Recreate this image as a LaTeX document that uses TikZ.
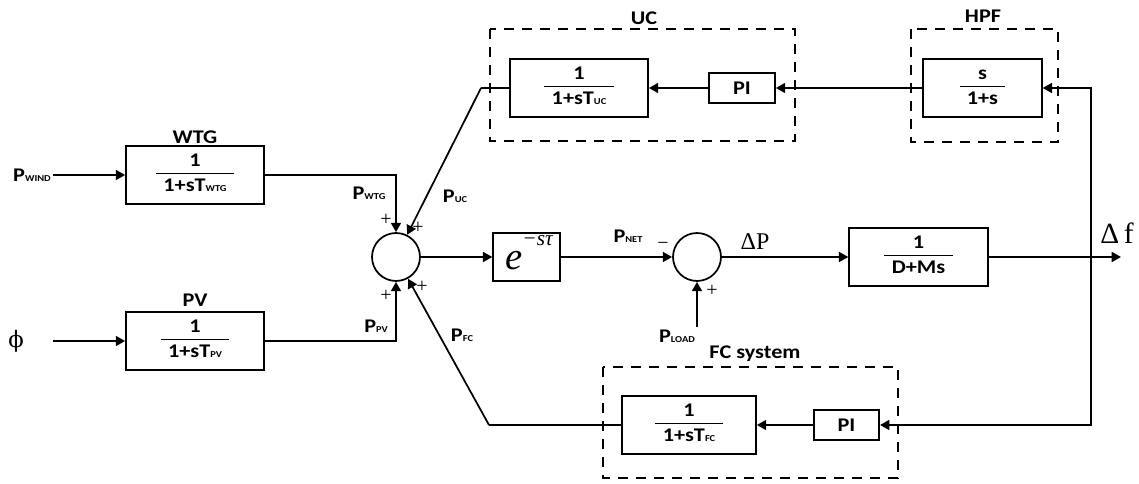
\documentclass[tikz,border=0pt]{standalone}
\usepackage{fontspec}
\setmainfont{Carlito}[FakeStretch=1.15]
\newfontfamily\tms{Liberation Serif}
\newfontfamily\dvs{DejaVu Serif}
\usetikzlibrary{arrows.meta}
\newcommand\sbs[1]{{\fontsize{6.8}{7}\selectfont #1}}
\newcommand\tfr[2]{\begin{tabular}{@{\hspace{5.5pt}}c@{\hspace{5.5pt}}}#1\\\hline\rule{0pt}{13.5pt}#2\end{tabular}}
\begin{document}
\begin{tikzpicture}[x=0.75pt,y=-0.75pt,
  blk/.style={draw,line width=1.3pt,inner sep=0pt,font=\fontsize{14.5}{15.5}\selectfont\bfseries},
  sumj/.style={draw,circle,line width=1.3pt,minimum size=36pt,inner sep=0pt},
  sig/.style={line width=1.3pt,-{Triangle[length=7pt,width=7.5pt]}},
  ln/.style={line width=1.3pt},
  dbox/.style={line width=1.3pt,dash pattern=on 7.5pt off 6pt},
  lab/.style={inner sep=0pt,font=\fontsize{14.5}{16}\selectfont\bfseries},
  sgn/.style={inner sep=0pt,font=\tms\fontsize{15}{15}\selectfont}]
\useasboundingbox (0,0) rectangle (1139,484);
% dashed groups
\draw[dbox] (490,29) rectangle (795,141);
\draw[dbox] (911,29) rectangle (1058,142);
\draw[dbox] (603,367) rectangle (898,478);
% group labels
\node[lab] (lwtg) at (195,137) {WTG};
\node[lab] (lpv) at (195,300) {PV};
\node[lab] (luc) at (644,18) {UC};
\node[lab] (lhpf) at (983,16) {HPF};
\node[lab] (lfc) at (755,354) {FC system};
% blocks
\node[blk,minimum width=103.5pt,minimum height=43.5pt] (wtg) at (195,175) {\tfr{1}{1+sT\sbs{WTG}}};
\node[blk,minimum width=103.5pt,minimum height=43.5pt] (pv) at (195,341) {\tfr{1}{1+sT\sbs{PV}}};
\node[blk,minimum width=103.5pt,minimum height=43.5pt] (ucbox) at (579,88) {\tfr{1}{1+sT\sbs{UC}}};
\node[blk,minimum width=49.5pt,minimum height=22.5pt] (ucpi) at (742,88) {PI};
\node[blk,minimum width=89pt,minimum height=44pt] (hpf) at (982.5,88) {\tfr{s}{1+s}};
\node[blk,minimum width=100.5pt,minimum height=43.5pt] (fcbox) at (689,425) {\tfr{1}{1+sT\sbs{FC}}};
\node[blk,minimum width=49pt,minimum height=23pt] (fcpi) at (846.5,425) {PI};
\node[blk,minimum width=104pt,minimum height=44pt] (plant) at (918.5,257) {\tfr{1}{D+Ms}};
\node[blk,minimum width=50pt,minimum height=36pt] (delay) at (526.5,257) {};
\node[inner sep=0pt,anchor=base west] (delaytxt) at (505,270) {{\tms\itshape\fontsize{29}{29}\selectfont e}{\tms\itshape\fontsize{16}{16}\selectfont\raisebox{18pt}{−sτ}}};
\node[sumj] (sum1) at (396,257) {};
\node[sumj] (sum2) at (697,257) {};
% signal labels
\node[lab,anchor=east] (pwind) at (51,175) {P\sbs{WIND}};
\node[inner sep=0pt,font=\dvs\fontsize{17}{17}\selectfont] (phi) at (16,341) {ϕ};
\node[lab] (pwtg) at (369,193) {P\sbs{WTG}};
\node[lab] (ppv) at (376,326) {P\sbs{PV}};
\node[lab] (puc) at (455,196) {P\sbs{UC}};
\node[lab] (pfc) at (462,335) {P\sbs{FC}};
\node[lab] (pnet) at (628,236) {P\sbs{NET}};
\node[lab] (plo) at (677,336) {P\sbs{LOAD}};
\node[inner sep=0pt,font=\tms\fontsize{18}{18}\selectfont] (dp) at (755,242) {ΔP};
\node[inner sep=0pt,font=\tms\fontsize{22}{22}\selectfont] (df) at (1117,233) {Δ\,f};
% signs
\node[sgn] (s1) at (386,220) {+};
\node[sgn] (s2) at (418,228) {+};
\node[sgn] (s3) at (386,296) {+};
\node[sgn] (s4) at (422,287) {+};
\node[sgn] (s5) at (663,246) {−};
\node[sgn] (s6) at (712,291) {+};
% coordinates
\coordinate (phistart) at (53,341);
\coordinate (ucturn) at (481,88);
\coordinate (fcturn) at (489,425);
\coordinate (tap) at (1091,257);
\coordinate (fout) at (1121,257);
\coordinate (pload) at (697,327);
% connectors
\draw[sig] (pwind.east) ++(2,0) -- (wtg.west);
\draw[sig] (phistart) -- (pv.west);
\draw[sig] (wtg.east) -| (sum1.north);
\draw[sig] (pv.east) -| (sum1.south);
\draw[ln] (ucbox.west) -- (ucturn);
\draw[sig] (ucturn) -- (sum1);
\draw[ln] (fcbox.west) -- (fcturn);
\draw[sig] (fcturn) -- (sum1);
\draw[sig] (sum1) -- (delay);
\draw[sig] (delay) -- (sum2);
\draw[sig] (pload) -- (sum2.south);
\draw[sig] (sum2) -- (plant);
\draw[sig] (plant) -- (fout);
\draw[sig] (tap) |- (hpf.east);
\draw[sig] (tap) |- (fcpi.east);
\draw[sig] (hpf.west) -- (ucpi.east);
\draw[sig] (ucpi.west) -- (ucbox.east);
\draw[sig] (fcpi.west) -- (fcbox.east);
\end{tikzpicture}
\end{document}
